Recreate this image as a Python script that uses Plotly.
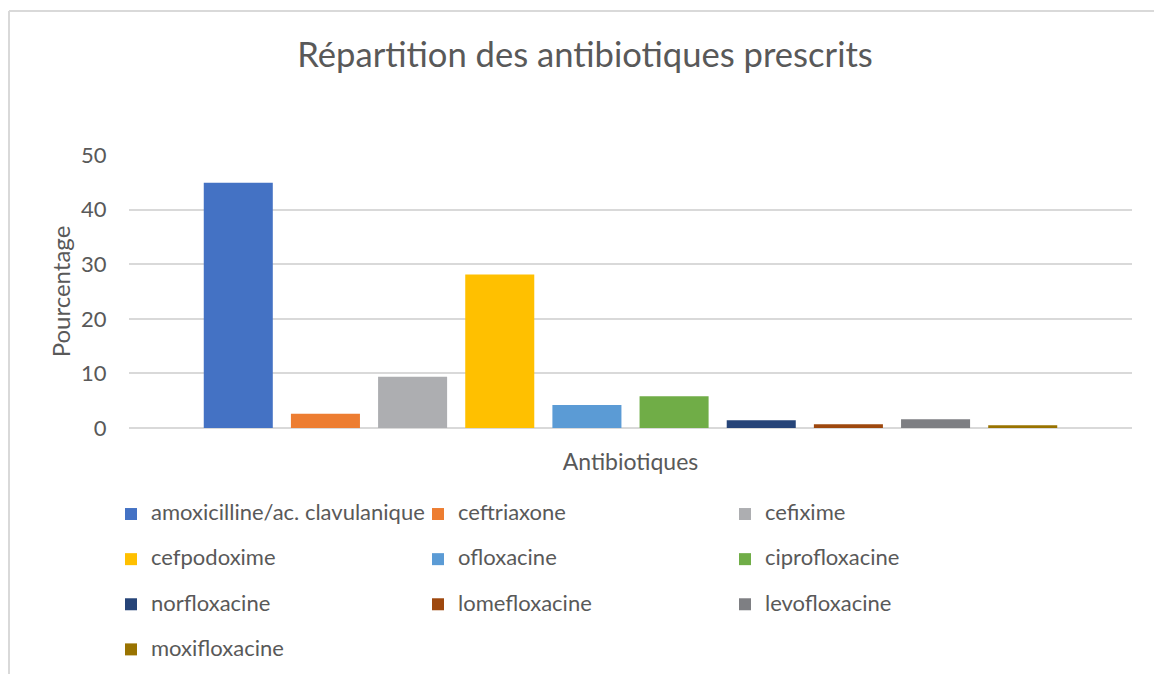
import plotly.graph_objects as go

# Data
antibiotiques = ["amoxicilline/ac. clavulanique", "ceftriaxone", "cefixime", "cefpodoxime",
                 "ofloxacine", "ciprofloxacine", "norfloxacine", "lomefloxacine",
                 "levofloxacine", "moxifloxacine"]
pourcentages = [44.9, 2.6, 9.4, 28.1, 4.2, 5.8, 1.4, 0.7, 1.6, 0.5]
couleurs = ["#4472C4", "#ED7D31", "#ADAEB1", "#FFC000", "#5B9BD5", "#70AD47",
            "#264478", "#9E480E", "#7E7F83", "#997300"]
categorie = [""]

W, H = 1154, 674
L, R, T, B = 129, 22, 155, 246
pw, ph = W - L - R, H - T - B
TXT = "#595959"
FONT = "Lato"

fig = go.Figure()
n = len(antibiotiques)
for i, (name, val, col) in enumerate(zip(antibiotiques, pourcentages, couleurs)):
    label = f"<span style='font-size:22px'>{name}</span>"
    if i < n - 1:
        label += "<br> "
    fig.add_trace(go.Bar(
        x=categorie, y=[val], name=label,
        marker=dict(color=col, line=dict(width=0)),
    ))

def px_x(px):
    return (px - L) / pw

def px_y(py):
    return (H - B - py) / ph

fig.update_layout(
    width=W, height=H,
    margin=dict(l=L, r=R, t=T, b=B, autoexpand=False),
    paper_bgcolor="white", plot_bgcolor="white",
    barmode="group", bargap=0.131, bargroupgap=0.208,
    font=dict(family=FONT, color=TXT),
    title=dict(text="Répartition des antibiotiques prescrits", x=0.507, xanchor="center",
               y=1 - 55 / H, yanchor="middle", font=dict(size=34.6, color=TXT, family=FONT)),
    xaxis=dict(showticklabels=False, showgrid=False, zeroline=False, showline=False,
               title=dict(text="Antibiotiques", font=dict(size=23, color=TXT), standoff=25)),
    yaxis=dict(range=[0, 50], dtick=10, tick0=0, showgrid=True, gridcolor="#D9D9D9", gridwidth=1.5,
               zeroline=True, zerolinecolor="#D9D9D9", zerolinewidth=1.5,
               ticks="outside", ticklen=17, tickcolor="rgba(0,0,0,0)",
               tickfont=dict(size=22, color=TXT),
               title=dict(text="Pourcentage", font=dict(size=24, color=TXT), standoff=3)),
    legend=dict(orientation="h", x=px_x(111), xanchor="left", y=px_y(497), yanchor="top",
                entrywidth=262, entrywidthmode="pixels", valign="top",
                bgcolor="rgba(0,0,0,0)",
                font=dict(size=16.2, color=TXT), traceorder="normal", itemclick=False),
    shapes=[
        dict(type="line", xref="paper", yref="paper", x0=px_x(9), x1=px_x(W + 5),
             y0=px_y(11), y1=px_y(11), line=dict(color="#D9D9D9", width=2)),
        dict(type="line", xref="paper", yref="paper", x0=px_x(9), x1=px_x(9),
             y0=px_y(11), y1=px_y(H + 5), line=dict(color="#D9D9D9", width=2)),
    ],
)

fig.write_html("out.html", config={"displayModeBar": False},
               post_script="document.body.style.margin='0';")
